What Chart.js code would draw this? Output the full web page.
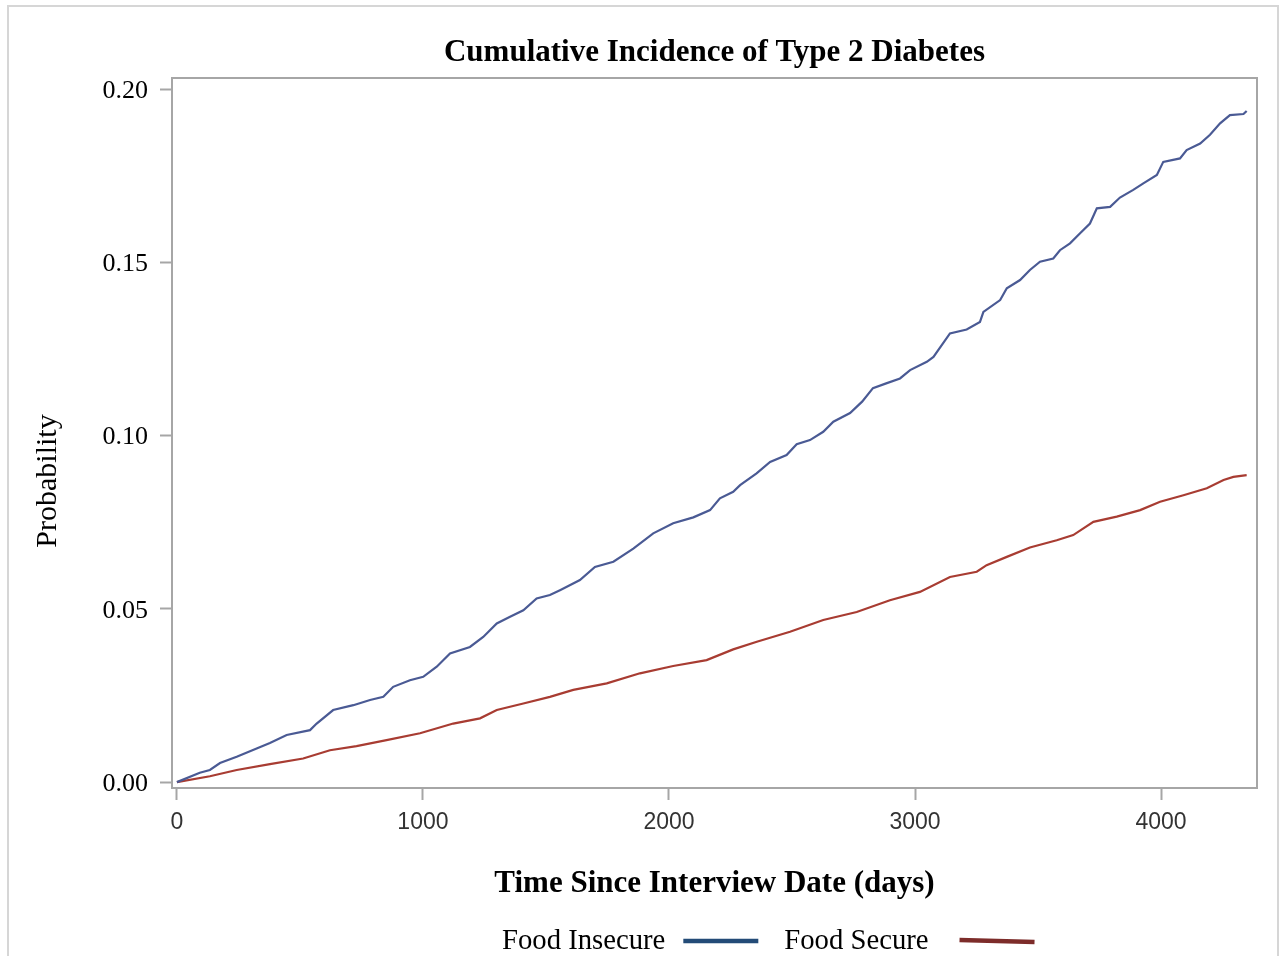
<!DOCTYPE html>
<html>
<head>
<meta charset="utf-8">
<title>Cumulative Incidence of Type 2 Diabetes</title>
<script src="https://cdn.jsdelivr.net/npm/chart.js@4.4.1/dist/chart.umd.min.js"></script>
<style>
  html, body { margin: 0; padding: 0; background: #fff; }
  body { position: relative; width: 1282px; height: 956px; overflow: hidden; }
  #frame { position: absolute; left: 7px; top: 5px; width: 1272px; height: 1000px; border: 2px solid #d6d6d6; box-sizing: border-box; }
  #wrap { position: absolute; left: 0; top: 0; width: 1282px; height: 956px; }
</style>
</head>
<body>
<div id="frame"></div>
<div id="wrap"><canvas id="cifChart"></canvas></div>
<script>
// Values
const titleText = 'Cumulative Incidence of Type 2 Diabetes';
const seriesLabels = ['Food Insecure', 'Food Secure'];

const xTicks = [0, 1000, 2000, 3000, 4000];
const yTicks = [0, 0.05, 0.10, 0.15, 0.20];

const insecureDays = [0, 93, 134, 175, 243, 324, 378, 446, 541, 568, 635, 717, 785, 839, 879, 947, 1001, 1056, 1110, 1191,
  1245, 1300, 1354, 1408, 1462, 1516, 1557, 1638, 1699, 1774, 1855, 1936, 2017, 2099, 2167, 2207, 2261, 2289, 2356, 2411,
  2478, 2519, 2573, 2627, 2668, 2736, 2785, 2829, 2880, 2939, 2980, 3048, 3075, 3142, 3210, 3264, 3278, 3346, 3373, 3427,
  3467, 3508, 3562, 3589, 3630, 3671, 3711, 3739, 3793, 3833, 3887, 3928, 3983, 4009, 4077, 4104, 4159, 4199, 4240, 4280,
  4335, 4348];
const insecureProb = [0, 0.0027, 0.0035, 0.0055, 0.0073, 0.0097, 0.0113, 0.0136, 0.0150, 0.0169, 0.0208, 0.0222, 0.0237, 0.0246, 0.0275, 0.0294, 0.0304, 0.0333, 0.0371, 0.0390,
  0.0419, 0.0458, 0.0477, 0.0496, 0.0530, 0.0540, 0.0554, 0.0583, 0.0621, 0.0636, 0.0674, 0.0718, 0.0747, 0.0764, 0.0785, 0.0819, 0.0838, 0.0857, 0.0891, 0.0924,
  0.0944, 0.0975, 0.0987, 0.1011, 0.1040, 0.1065, 0.1098, 0.1137, 0.1150, 0.1165, 0.1189, 0.1213, 0.1227, 0.1295, 0.1306, 0.1328, 0.1357, 0.1391, 0.1425, 0.1449,
  0.1478, 0.1502, 0.1511, 0.1535, 0.1555, 0.1584, 0.1612, 0.1656, 0.1660, 0.1687, 0.1709, 0.1728, 0.1752, 0.1790, 0.1800, 0.1824, 0.1843, 0.1868, 0.1901, 0.1925,
  0.1928, 0.1937];

const secureDays = [0, 134, 243, 378, 513, 622, 730, 852, 988, 1123, 1232, 1300, 1408, 1516, 1611, 1747, 1882, 2017, 2153, 2261,
  2357, 2492, 2627, 2763, 2898, 3020, 3142, 3251, 3291, 3373, 3467, 3576, 3643, 3725, 3820, 3915, 3996, 4091, 4186, 4254,
  4294, 4348];
const secureProb = [0, 0.0017, 0.0035, 0.0052, 0.0068, 0.0092, 0.0104, 0.0121, 0.0141, 0.0169, 0.0184, 0.0208, 0.0227, 0.0246, 0.0266, 0.0285, 0.0314, 0.0335, 0.0352, 0.0383,
  0.0405, 0.0434, 0.0468, 0.0491, 0.0525, 0.0549, 0.0592, 0.0607, 0.0626, 0.0650, 0.0677, 0.0698, 0.0713, 0.0751, 0.0766, 0.0785, 0.0809, 0.0828, 0.0848, 0.0872,
  0.0881, 0.0886];

const serif = '"Liberation Serif", "Times New Roman", Times, serif';
const sans = '"Liberation Sans", Arial, Helvetica, sans-serif';
const axisGray = '#a6a6a6';

function toPoints(xs, ys) {
  return xs.map((x, i) => ({ x: x, y: ys[i] }));
}

// plot frame, title, y title and legend (legend swatch sits after its text)
const decorPlugin = {
  id: 'decor',
  afterDatasetsDraw(chart) {
    const { ctx, chartArea: a } = chart;
    ctx.save();
    ctx.strokeStyle = axisGray;
    ctx.lineWidth = 2;
    ctx.strokeRect(a.left, a.top, a.right - a.left, a.bottom - a.top);

    ctx.fillStyle = '#000';
    ctx.textAlign = 'center';
    ctx.textBaseline = 'alphabetic';
    ctx.font = 'bold 31px ' + serif;
    ctx.fillText(titleText, (a.left + a.right) / 2, 61);

    ctx.save();
    ctx.translate(56, 481);
    ctx.rotate(-Math.PI / 2);
    ctx.font = '30px ' + serif;
    ctx.fillText('Probability', 0, 0);
    ctx.restore();

    ctx.font = '28.7px ' + serif;
    ctx.textAlign = 'left';
    const swatchColors = ['#234b77', '#7d2c2a'];
    const gaps = [18, 31];
    const tilt = [0, 2];
    let x = a.left + 330;
    const y = 949;
    chart.data.datasets.forEach((ds, i) => {
      ctx.fillStyle = '#000';
      ctx.fillText(ds.label, x, y);
      x += ctx.measureText(ds.label).width + gaps[i];
      ctx.strokeStyle = swatchColors[i];
      ctx.lineWidth = 4.5;
      ctx.beginPath();
      ctx.moveTo(x, 941 - tilt[i] / 2);
      ctx.lineTo(x + 75, 941 + tilt[i] / 2);
      ctx.stroke();
      x += 75 + 26;
    });
    ctx.restore();
  }
};

new Chart(document.getElementById('cifChart'), {
  type: 'line',
  data: {
    datasets: [
      {
        label: seriesLabels[0],
        data: toPoints(insecureDays, insecureProb),
        borderColor: '#4a5a94',
        borderWidth: 2.2,
        pointRadius: 0,
        tension: 0
      },
      {
        label: seriesLabels[1],
        data: toPoints(secureDays, secureProb),
        borderColor: '#a83c32',
        borderWidth: 2.2,
        pointRadius: 0,
        tension: 0
      }
    ]
  },
  options: {
    responsive: true,
    maintainAspectRatio: false,
    animation: false,
    layout: { padding: { left: 0, top: 78, right: 25, bottom: 48 } },
    plugins: {
      legend: { display: false },
      title: { display: false },
      tooltip: { enabled: false }
    },
    scales: {
      x: {
        type: 'linear',
        min: -20,
        max: 4390,
        afterBuildTicks: s => { s.ticks = xTicks.map(v => ({ value: v })); },
        afterFit: s => { s.height = 120; },
        grid: { drawOnChartArea: false, tickLength: 12, tickWidth: 2, tickColor: axisGray },
        border: { display: false },
        ticks: {
          color: '#333',
          font: { family: sans, size: 23 },
          padding: 9,
          maxRotation: 0,
          autoSkip: false,
          callback: v => String(v)
        },
        title: {
          display: true,
          text: 'Time Since Interview Date (days)',
          color: '#000',
          font: { family: serif, size: 31, weight: 'bold' },
          padding: { top: 0, bottom: 5 }
        }
      },
      y: {
        type: 'linear',
        min: -0.0017,
        max: 0.2032,
        afterBuildTicks: s => { s.ticks = yTicks.map(v => ({ value: v })); },
        afterFit: s => { s.width = 172; },
        grid: { drawOnChartArea: false, tickLength: 12, tickWidth: 2, tickColor: axisGray },
        border: { display: false },
        ticks: {
          color: '#000',
          font: { family: serif, size: 26 },
          padding: 12,
          autoSkip: false,
          labelOffset: 2,
          callback: v => v.toFixed(2)
        }
      }
    }
  },
  plugins: [decorPlugin]
});
</script>
</body>
</html>
